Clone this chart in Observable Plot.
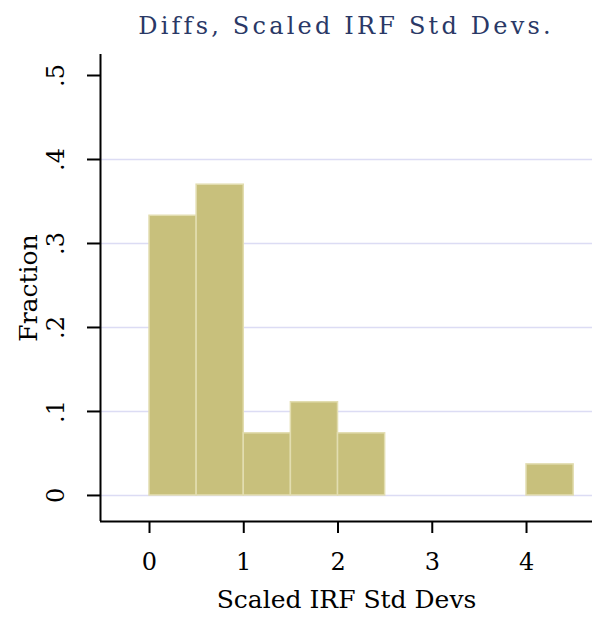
<!DOCTYPE html>
<html><head><meta charset="utf-8">
<script src="https://cdn.jsdelivr.net/npm/d3@7"></script>
<script src="https://cdn.jsdelivr.net/npm/@observablehq/plot@0.6"></script>
<style>
body{margin:0;background:#fff;}
#title{font-family:"DejaVu Serif",serif;font-size:24px;letter-spacing:3.2px;color:#2a3866;height:40px;box-sizing:border-box;padding-top:15px;line-height:23px;margin-left:100px;width:492px;text-align:center;white-space:nowrap;}
svg{display:block;}
</style>
</head><body>
<div id="title">Diffs, Scaled IRF Std Devs.</div>
<div id="chart"></div>
<script>
const binStart = [0, 0.5, 1, 1.5, 2, 4];
const binEnd = [0.5, 1, 1.5, 2, 2.5, 4.5];
const fraction = [0.333, 0.370, 0.074, 0.111, 0.074, 0.037];
const xTicks = [0, 1, 2, 3, 4];
const yTicks = [0, 0.1, 0.2, 0.3, 0.4, 0.5];
const yTickLabels = ["0", ".1", ".2", ".3", ".4", ".5"];
const yGrid = [0, 0.1, 0.2, 0.3, 0.4];
const xDomain = [-0.52, 4.70];
const yDomain = [-0.031, 0.525];
const xLabel = "Scaled IRF Std Devs";
const yLabel = "Fraction";

const bins = binStart.map((s, i) => ({x1: s, x2: binEnd[i], f: fraction[i]}));

const chart = Plot.plot({
  width: 592,
  height: 578,
  marginLeft: 100,
  marginRight: 0,
  marginTop: 14,
  marginBottom: 97,
  x: {domain: xDomain, label: null},
  y: {domain: yDomain, label: null},
  style: {fontFamily: "DejaVu Serif, serif", background: "#fff", color: "#000"},
  marks: [
    Plot.gridY(yGrid, {stroke: "#dcdcf4", strokeOpacity: 1, strokeWidth: 1.5}),
    Plot.rectY(bins, {x1: "x1", x2: "x2", y: "f", fill: "#c8c07c", stroke: "#e2ddb0", strokeWidth: 1.5}),
    // tick marks (short rules hanging outside the frame)
    Plot.ruleX(xTicks, {x: d => d, y1: () => yDomain[0], y2: () => yDomain[0], insetBottom: -12, stroke: "#000", strokeWidth: 2}),
    Plot.ruleY(yTicks, {y: d => d, x1: () => xDomain[0], x2: () => xDomain[0], insetLeft: -13, stroke: "#000", strokeWidth: 2}),
    Plot.axisX(xTicks, {
      tickSize: 0, tickPadding: 31,
      fontSize: 24, tickFormat: d => String(d)
    }),
    Plot.axisY(yTicks, {
      tickSize: 0, tickPadding: 37,
      fontSize: 24, tickRotate: -90, textAnchor: "middle", lineAnchor: "bottom",
      tickFormat: d => yTickLabels[yTicks.indexOf(d)]
    }),
    Plot.ruleY([yDomain[0]], {stroke: "#000", strokeWidth: 2}),
    Plot.ruleX([xDomain[0]], {stroke: "#000", strokeWidth: 2}),
    Plot.text([xLabel], {frameAnchor: "bottom", dy: 86, fontSize: 25, fill: "#000", lineAnchor: "bottom", text: d => d}),
    Plot.text([yLabel], {frameAnchor: "left", dx: -72, rotate: -90, textAnchor: "middle", fontSize: 25, fill: "#000", text: d => d})
  ]
});
document.getElementById("chart").appendChild(chart);
</script>
</body></html>
